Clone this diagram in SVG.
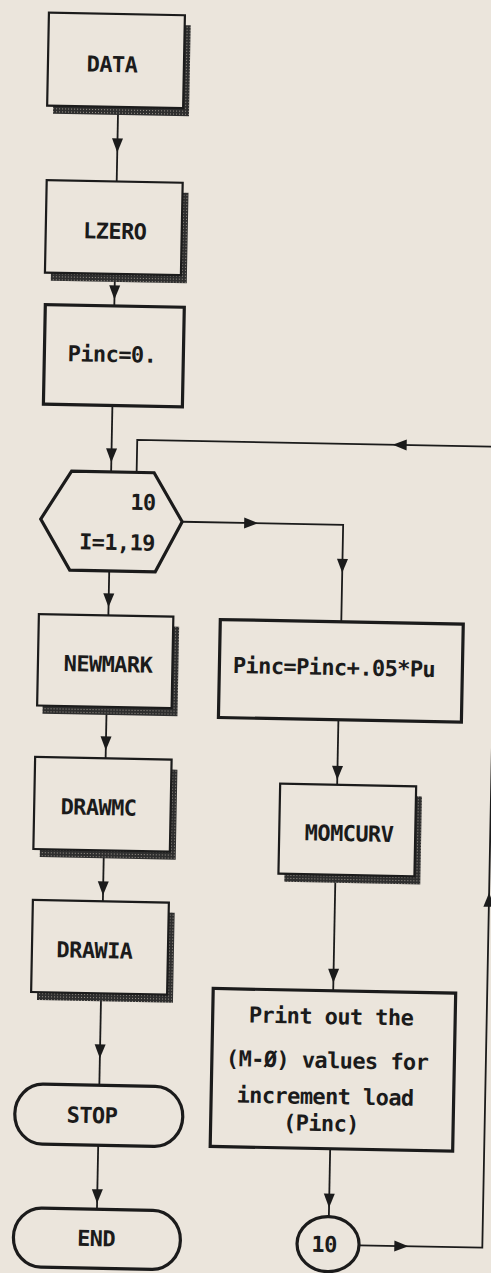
<svg xmlns="http://www.w3.org/2000/svg" width="491" height="1273" viewBox="0 0 491 1273">
<defs>
<style>
.bx{fill:none;stroke:#1b1b1b;stroke-width:2.2}
.bxt{fill:none;stroke:#1b1b1b;stroke-width:3.2}
.sh{fill:url(#dither);stroke:none}
.ln{fill:none;stroke:#1b1b1b;stroke-width:1.8}
.ah{fill:#1b1b1b}
.tx{font-family:"DejaVu Sans Mono","Liberation Mono",monospace;font-size:22px;font-weight:bold;letter-spacing:-0.6px;fill:#1b1b1b;text-anchor:middle}
</style>
<pattern id="dither" width="3" height="3" patternUnits="userSpaceOnUse">
<rect width="3" height="3" fill="#2e2e2e"/>
<rect x="1" y="1" width="1" height="1" fill="#9a948c"/>
</pattern>
<path id="ad" d="M0,0 L-5.5,-14 L5.5,-14 Z"/>
</defs>
<rect width="491" height="1273" fill="#ebe5dc"/>
<g transform="rotate(1.1 245 636)">
<g id="connectors">
<line class="ln" x1="108" y1="109.5" x2="108" y2="184"/>
<use href="#ad" class="ah" x="108" y="155"/>
<line class="ln" x1="108" y1="276.5" x2="108" y2="308.5"/>
<use href="#ad" class="ah" x="108" y="302"/>
<line class="ln" x1="108" y1="408" x2="108" y2="474.5"/>
<use href="#ad" class="ah" x="108" y="465"/>
<line class="ln" x1="108" y1="573.5" x2="108" y2="618"/>
<use href="#ad" class="ah" x="108" y="610"/>
<line class="ln" x1="108" y1="709.5" x2="108" y2="761"/>
<use href="#ad" class="ah" x="108" y="753"/>
<line class="ln" x1="108" y1="853" x2="108" y2="904"/>
<use href="#ad" class="ah" x="108" y="898"/>
<line class="ln" x1="108" y1="996" x2="108" y2="1088"/>
<use href="#ad" class="ah" x="108" y="1061"/>
<line class="ln" x1="108" y1="1148" x2="108" y2="1212"/>
<use href="#ad" class="ah" x="108" y="1206"/>
<polyline class="ln" points="180,523 341,523 341,620"/>
<path class="ah" d="M256,523 L242,517.5 L242,528.5 Z"/>
<use href="#ad" class="ah" x="341" y="571"/>
<line class="ln" x1="340" y1="718" x2="340" y2="783"/>
<use href="#ad" class="ah" x="340" y="778"/>
<line class="ln" x1="340" y1="873" x2="340" y2="989"/>
<use href="#ad" class="ah" x="340" y="981"/>
<line class="ln" x1="340" y1="1147" x2="340" y2="1215"/>
<use href="#ad" class="ah" x="340" y="1206"/>
<polyline class="ln" points="371,1243 494,1243 494,442 133.5,442 133.5,474.5"/>
<path class="ah" d="M420,1243 L406,1237.5 L406,1248.5 Z"/>
<path class="ah" d="M494,888 L488.5,902 L499.5,902 Z"/>
<path class="ah" d="M389,442 L403,436.5 L403,447.5 Z"/>
</g>
<g id="n-data">
<path class="sh" d="M173,26.5 H179 V117.5 H43 V109.5 H173 Z"/>
<rect class="bx" x="37" y="16.5" width="136" height="93"/>
<text class="tx" x="101" y="74.6">DATA</text>
</g>
<g id="n-lzero">
<path class="sh" d="M174,194 H180 V284.5 H44 V276.5 H174 Z"/>
<rect class="bx" x="38" y="184" width="136" height="92.5"/>
<text class="tx" x="107" y="241.5">LZERO</text>
</g>
<g id="n-pinc0">
<rect class="bxt" x="39" y="308.5" width="139" height="99.5"/>
<text class="tx" x="106.6" y="364.6">Pinc=0.</text>
</g>
<g id="n-loop">
<polygon class="bxt" points="38.5,523 68.5,474.5 151,474.5 180,523 154,573.5 68.5,573.5"/>
<text class="tx" x="140.4" y="512">10</text>
<text class="tx" x="115.2" y="552.5">I=1,19</text>
</g>
<g id="n-newmark">
<path class="sh" d="M173,628 H179 V717.5 H44 V709.5 H173 Z"/>
<rect class="bx" x="38.5" y="618" width="134.5" height="91.5"/>
<text class="tx" x="108.5" y="674.6">NEWMARK</text>
</g>
<g id="n-drawmc">
<path class="sh" d="M174,771 H180 V861 H44 V853 H174 Z"/>
<rect class="bx" x="37.5" y="761" width="136.5" height="92"/>
<text class="tx" x="101.8" y="817.8">DRAWMC</text>
</g>
<g id="n-drawia">
<path class="sh" d="M174,914 H180 V1004 H44 V996 H174 Z"/>
<rect class="bx" x="38" y="904" width="136" height="92"/>
<text class="tx" x="100.5" y="960.9">DRAWIA</text>
</g>
<g id="n-stop">
<rect class="bxt" x="24" y="1088" width="168" height="60" rx="28" ry="30"/>
<text class="tx" x="101.2" y="1125.9">STOP</text>
</g>
<g id="n-end">
<rect class="bxt" x="25" y="1212" width="167" height="59" rx="28" ry="29.5"/>
<text class="tx" x="107.6" y="1248.9">END</text>
</g>
<g id="n-pincinc">
<rect class="bxt" x="220" y="620" width="243" height="98"/>
<text class="tx" x="334.6" y="673.3">Pinc=Pinc+.05*Pu</text>
</g>
<g id="n-momcurv">
<path class="sh" d="M419,793 H425 V881 H289 V873 H419 Z"/>
<rect class="bx" x="283" y="783" width="136" height="90"/>
<text class="tx" x="352.8" y="839">MOMCURV</text>
</g>
<g id="n-print">
<rect class="bxt" x="220" y="989" width="242.5" height="158"/>
<text class="tx" x="338.3" y="1022.3">Print out the</text>
<text class="tx" x="335.2" y="1066.4">(M-Ø) values for</text>
<text class="tx" x="333.9" y="1102.5">increment load</text>
<text class="tx" x="330.3" y="1129.5">(Pinc)</text>
</g>
<g id="n-conn10">
<ellipse class="bxt" cx="339.7" cy="1242.4" rx="31" ry="27.5"/>
<text class="tx" x="335.7" y="1250.4">10</text>
</g>
</g>
</svg>
